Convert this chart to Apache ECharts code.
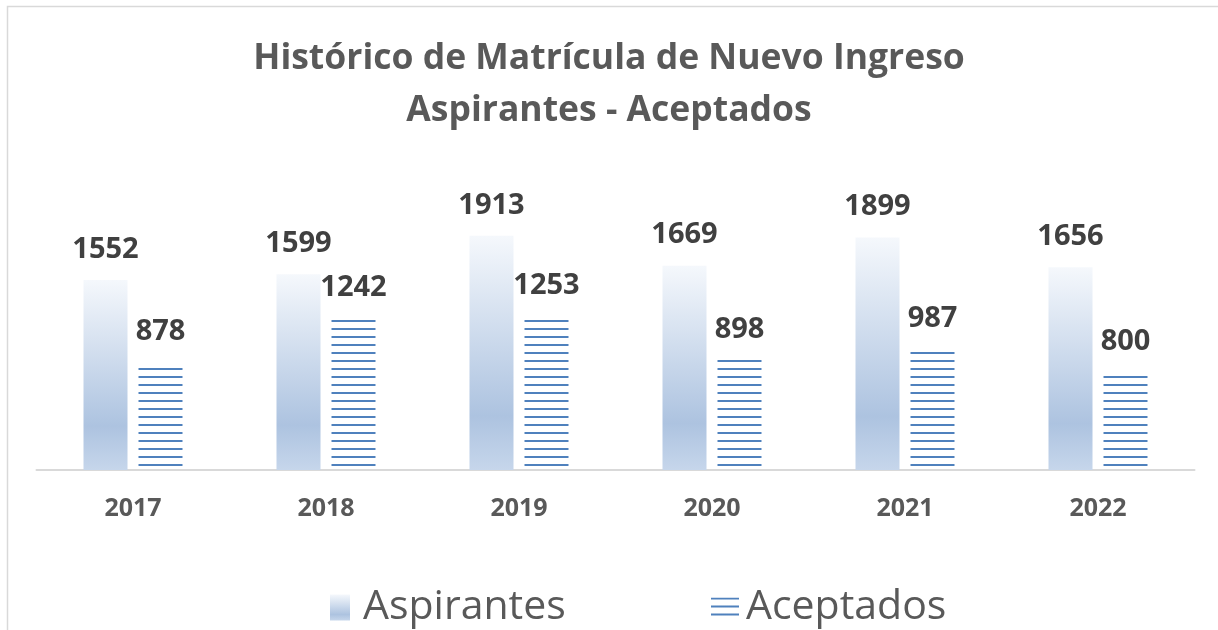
<!DOCTYPE html>
<html>
<head>
<meta charset="utf-8">
<script src="https://cdn.jsdelivr.net/npm/echarts@6/dist/echarts.min.js"></script>
<style>
  html, body { margin: 0; padding: 0; background: #fff; }
  #chart { width: 1218px; height: 630px; }
</style>
</head>
<body>
<div id="chart"></div>
<script>
const years = ["2017", "2018", "2019", "2020", "2021", "2022"];
const aspirantes = [1552, 1599, 1913, 1669, 1899, 1656];
const aceptados = [878, 1242, 1253, 898, 987, 800];

// horizontal line pattern for Aceptados
function linePattern() {
  let c = document.createElement("canvas");
  c.width = 8; c.height = 8;
  let ctx = c.getContext("2d");
  ctx.fillStyle = "#4f81bd";
  ctx.fillRect(0, 0, 8, 2);
  return c;
}
const pattern = { image: linePattern(), repeat: "repeat" };

const gradient = new echarts.graphic.LinearGradient(0, 0, 0, 1, [
  { offset: 0, color: "#f5f8fc" },
  { offset: 0.77, color: "#adc3e0" },
  { offset: 1, color: "#c6d6eb" }
]);

const textColor = "#595959";
const font = "'Open Sans', sans-serif";

let chart = echarts.init(document.getElementById("chart"));
chart.setOption({
  animation: false,
  graphic: [{
    type: "rect", z: -10,
    shape: { x: 7.5, y: 6.5, width: 1260, height: 700 },
    style: { fill: "none", stroke: "#d9d9d9", lineWidth: 1.5 }
  }],
  title: {
    text: "Histórico de Matrícula de Nuevo Ingreso\nAspirantes - Aceptados",
    left: "center", top: 28,
    textStyle: { fontFamily: font, fontSize: 35.5, fontWeight: "bold", color: textColor, lineHeight: 52 }
  },
  legend: [{
    data: ["Aspirantes"], left: 325, top: 582, icon: "rect",
    itemWidth: 20, itemHeight: 26, itemGap: 0,
    textStyle: { fontFamily: font, fontSize: 41, color: textColor, padding: [0, 0, 0, 8] }
  }, {
    data: ["Aceptados"], left: 706, top: 582, icon: "rect",
    itemWidth: 28, itemHeight: 20, itemGap: 0,
    textStyle: { fontFamily: font, fontSize: 41, color: textColor, padding: [0, 0, 0, 2] }
  }],
  grid: { left: 36.5, right: 23.5, top: 164, bottom: 160, containLabel: false },
  xAxis: {
    type: "category", data: years,
    axisLine: { lineStyle: { color: "#d9d9d9", width: 2 } },
    axisTick: { show: false },
    axisLabel: { fontFamily: font, fontSize: 25, fontWeight: "bold", color: textColor, margin: 26 }
  },
  yAxis: {
    type: "value", min: 0, max: 2500, show: false,
    splitLine: { show: false }
  },
  series: [{
    name: "Aspirantes", type: "bar", data: aspirantes,
    barWidth: 44, barGap: "25%",
    itemStyle: { color: gradient },
    label: { show: true, position: "top", distance: 16, fontFamily: font, fontSize: 29, fontWeight: "bold", color: "#404040" }
  }, {
    name: "Aceptados", type: "bar", data: aceptados,
    barWidth: 44,
    itemStyle: { color: pattern },
    label: { show: true, position: "top", distance: 16, fontFamily: font, fontSize: 29, fontWeight: "bold", color: "#404040" }
  }]
});
</script>
</body>
</html>
